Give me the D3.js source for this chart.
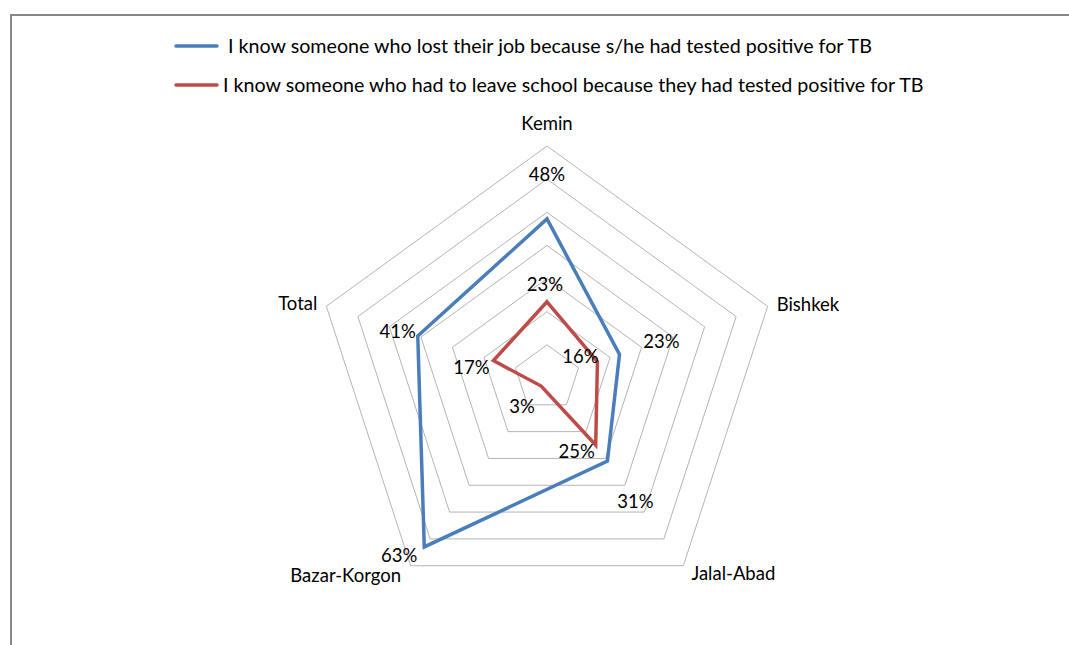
<!DOCTYPE html>
<html>
<head>
<meta charset="utf-8">
<script src="https://cdn.jsdelivr.net/npm/d3@7/dist/d3.min.js"></script>
<style>
  html, body { margin: 0; padding: 0; background: #fff; }
  svg { display: block; }
  text { font-family: Lato, "Liberation Sans", sans-serif; fill: #000; }
</style>
</head>
<body>
<svg id="chart" width="1069" height="645"></svg>
<script>
// Survey results by district (share of respondents)
const categories = ["Kemin", "Bishkek", "Jalal-Abad", "Bazar-Korgon", "Total"];
const seriesNames = [
  "I know someone who lost their job because s/he had tested positive for TB",
  "I know someone who had to leave school because they had tested positive for TB"
];
const lostJob = [0.48, 0.23, 0.31, 0.63, 0.41];
const leftSchool = [0.23, 0.16, 0.25, 0.03, 0.17];
const gridLevels = [0.1, 0.2, 0.3, 0.4, 0.5, 0.6, 0.7];

// Layout and styling
const cx = 547, cy = 378, outerR = 232;
const colors = ["#4a7ebb", "#be4b48"];
// label offsets (dx, baseline dy) from each plotted point
const labelOffsets = [
  [[0, -38], [42, -6], [28, 47], [-25, 15], [-20, 2]],
  [[-2, -11], [-17, 1], [-19, 13], [-19, 27], [-22, 13]]
];
// category label placement relative to the outer ring vertex
const catLabelPos = [
  { dx: 0, dy: -16, anchor: "middle" },
  { dx: 9, dy: 5, anchor: "start" },
  { dx: 50, dy: 14, anchor: "middle" },
  { dx: -65, dy: 16, anchor: "middle" },
  { dx: -9, dy: 4, anchor: "end" }
];

const svg = d3.select("#chart");

// Outer frame of the chart area
svg.append("rect")
  .attr("x", 11).attr("y", 15)
  .attr("width", 1200).attr("height", 800)
  .attr("fill", "none")
  .attr("stroke", "#878787")
  .attr("stroke-width", 2);

const r = d3.scaleLinear().domain([0, 0.7]).range([0, outerR]);
const angle = d3.scalePoint().domain(d3.range(categories.length + 1))
  .range([0, 2 * Math.PI]);

const pt = (i, v) => {
  const a = angle(i);
  return [cx + r(v) * Math.sin(a), cy - r(v) * Math.cos(a)];
};

// Concentric pentagon gridlines
const g = svg.append("g");
g.selectAll("path.grid")
  .data(gridLevels)
  .join("path")
  .attr("class", "grid")
  .attr("d", lv => d3.line()(categories.map((c, i) => pt(i, lv))) + "Z")
  .attr("fill", "none")
  .attr("stroke", "#b4b4b4")
  .attr("stroke-width", 1);

// Series polygons
const series = [lostJob, leftSchool];
series.forEach((vals, s) => {
  g.append("path")
    .attr("d", d3.line()(vals.map((v, i) => pt(i, v))) + "Z")
    .attr("fill", "none")
    .attr("stroke", colors[s])
    .attr("stroke-width", 3.5)
    .attr("stroke-linejoin", "miter");
});

// Data labels
const fmt = d3.format(".0%");
series.forEach((vals, s) => {
  g.selectAll("text.lbl" + s)
    .data(vals)
    .join("text")
    .attr("class", "lbl" + s)
    .attr("x", (v, i) => pt(i, v)[0] + labelOffsets[s][i][0])
    .attr("y", (v, i) => pt(i, v)[1] + labelOffsets[s][i][1])
    .attr("text-anchor", "middle")
    .attr("font-size", 18.5)
    .text(v => fmt(v));
});

// Category labels
g.selectAll("text.cat")
  .data(categories)
  .join("text")
  .attr("class", "cat")
  .attr("x", (c, i) => pt(i, 0.7)[0] + catLabelPos[i].dx)
  .attr("y", (c, i) => pt(i, 0.7)[1] + catLabelPos[i].dy)
  .attr("text-anchor", (c, i) => catLabelPos[i].anchor)
  .attr("font-size", 18.5)
  .text(c => c);

// Legend
const legend = svg.append("g");
const legendRows = [
  { y: 46, textX: 228 },
  { y: 85, textX: 223 }
];
seriesNames.forEach((name, s) => {
  const row = legendRows[s];
  legend.append("line")
    .attr("x1", 176).attr("x2", 217)
    .attr("y1", row.y).attr("y2", row.y)
    .attr("stroke", colors[s])
    .attr("stroke-width", 3.5)
    .attr("stroke-linecap", "round");
  legend.append("text")
    .attr("x", row.textX)
    .attr("y", row.y)
    .attr("dy", "0.35em")
    .attr("font-size", 19.7)
    .text(name);
});
</script>
</body>
</html>
